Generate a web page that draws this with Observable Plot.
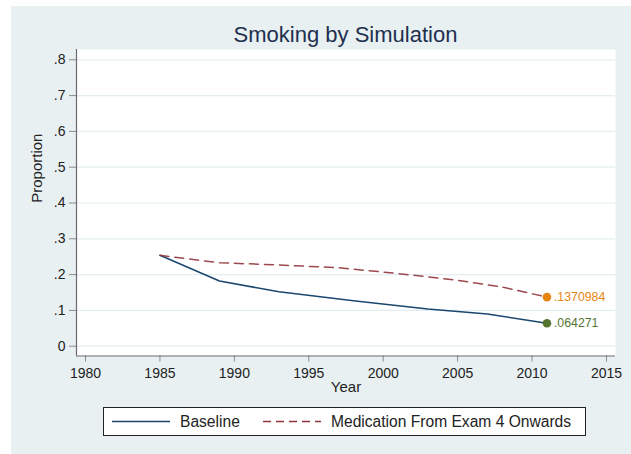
<!DOCTYPE html>
<html>
<head>
<meta charset="utf-8">
<script src="https://cdn.jsdelivr.net/npm/d3@7"></script>
<script src="https://cdn.jsdelivr.net/npm/@observablehq/plot@0.6"></script>
<style>
  html, body { margin: 0; padding: 0; background: #ffffff; }
  body { width: 631px; height: 454px; overflow: hidden; position: relative; }
  #graph {
    position: absolute; left: 11px; top: 6px; width: 620px; height: 448px;
    background: #e8f0f2;
    font-family: "Liberation Sans", Arial, Helvetica, sans-serif;
  }
  #title {
    box-sizing: border-box; height: 39px; padding-top: 18px;
    padding-left: 65px; padding-right: 16px;
    text-align: center; font-size: 22px; line-height: 22px; color: #1e2f4f;
    white-space: nowrap;
  }
  #chart svg { display: block; }
  #legend {
    position: relative; box-sizing: border-box;
    margin-left: 92px; margin-top: 1px; width: 483px; height: 29px;
    background: #ffffff; border: 1px solid #222;
    font-size: 15.6px; color: #222;
  }
  #legend .item { position: absolute; top: 0; height: 27px; line-height: 27px; white-space: nowrap; }
  #legend svg { position: absolute; top: 0; }
</style>
</head>
<body>
<div id="graph">
  <div id="title">Smoking by Simulation</div>
  <div id="chart"></div>
  <div id="legend"></div>
</div>
<script>
// Simulated smoking prevalence by survey year
const baselineYears = [1985, 1989, 1993, 1998, 2003, 2007, 2011];
const baselineValues = [0.254, 0.182, 0.152, 0.127, 0.104, 0.090, 0.064271];

const medicationYears = [1985, 1989, 1993, 1997, 2001, 2005, 2008, 2011];
const medicationValues = [0.254, 0.233, 0.227, 0.219, 0.203, 0.184, 0.165, 0.1370984];

const seriesNames = ["Baseline", "Medication From Exam 4 Onwards"];
const seriesColors = ["#1a476f", "#90353b"];
const endColors = ["#55752f", "#e68510"];

const xTicks = [1980, 1985, 1990, 1995, 2000, 2005, 2010, 2015];
const yTicks = [0, 0.1, 0.2, 0.3, 0.4, 0.5, 0.6, 0.7, 0.8];

// plot region padding beyond the outer ticks
const xDomain = [1979.395, 2015.605];
const yDomain = [-0.0274, 0.8288];

const baseline = baselineYears.map((year, i) => ({year, value: baselineValues[i], series: seriesNames[0]}));
const medication = medicationYears.map((year, i) => ({year, value: medicationValues[i], series: seriesNames[1]}));
const endPoints = [
  {...medication[medication.length - 1], color: endColors[1]},
  {...baseline[baseline.length - 1], color: endColors[0]}
];

const fmtProp = v => v === 0 ? "0" : String(+v.toFixed(7)).replace(/^0\./, ".");

const chart = Plot.plot({
  width: 620,
  height: 361,
  marginLeft: 65,
  marginRight: 16,
  marginTop: 4,
  marginBottom: 50.5,
  style: {
    background: "transparent",
    fontFamily: "'Liberation Sans', Arial, Helvetica, sans-serif",
    fontSize: "14px",
    color: "#222"
  },
  x: {domain: xDomain},
  y: {domain: yDomain},
  marks: [
    Plot.frame({fill: "#ffffff", stroke: null}),
    Plot.gridY(yTicks, {stroke: "#e4edf0", strokeOpacity: 1, strokeWidth: 1.2}),
    Plot.axisY(yTicks, {
      tickSize: 7, tickPadding: 4, stroke: "#8a8a8a", fill: "#222",
      tickFormat: fmtProp, label: null, fontSize: 14
    }),
    Plot.axisX(xTicks, {
      tickSize: 6, tickPadding: 6, stroke: "#8a8a8a", fill: "#222",
      tickFormat: d => String(d), label: null, fontSize: 14
    }),
    Plot.ruleX([xDomain[0]], {stroke: "#6a6a6a", strokeWidth: 1.2}),
    Plot.ruleY([yDomain[0]], {stroke: "#6a6a6a", strokeWidth: 1.2}),
    Plot.text(["Year"], {text: d => d, frameAnchor: "bottom", dy: 35.5, fontSize: 15, fill: "#222"}),
    Plot.text(["Proportion"], {text: d => d, frameAnchor: "left", dx: -39, rotate: -90, fontSize: 15, fill: "#222"}),
    Plot.lineY(baseline, {x: "year", y: "value", stroke: seriesColors[0], strokeWidth: 1.5}),
    Plot.lineY(medication, {x: "year", y: "value", stroke: seriesColors[1], strokeWidth: 1.5, strokeDasharray: "9,6", strokeOpacity: 0.9}),
    Plot.dot(endPoints, {x: "year", y: "value", r: 4.3, fill: d => d.color, stroke: null}),
    Plot.text(endPoints, {
      x: "year", y: "value", text: d => fmtProp(d.value), fill: d => d.color,
      textAnchor: "start", dx: 7, fontSize: 12.3
    })
  ]
});
document.getElementById("chart").append(chart);

// legend: one swatch and label per series
const legend = d3.select("#legend");
const layout = [
  {sw: 8, tx: 76, dash: null},
  {sw: 159, tx: 227, dash: "8,5"}
];
seriesNames.forEach((name, i) => {
  const s = legend.append("svg").attr("width", 58).attr("height", 27).style("left", layout[i].sw + "px");
  s.append("line").attr("x1", 0).attr("x2", 58).attr("y1", 13.5).attr("y2", 13.5)
    .attr("stroke", seriesColors[i]).attr("stroke-width", 1.5)
    .attr("stroke-dasharray", layout[i].dash);
  legend.append("div").attr("class", "item").style("left", layout[i].tx + "px").text(name);
});
</script>
</body>
</html>
